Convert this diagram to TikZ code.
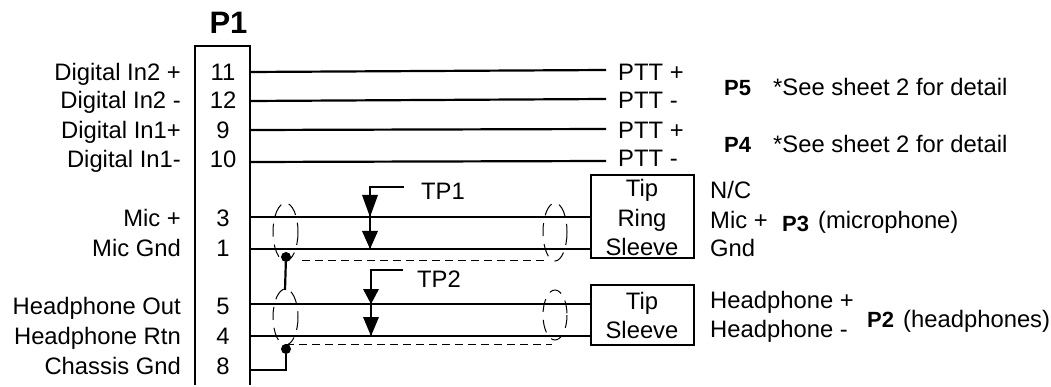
\documentclass[tikz,border=0pt]{standalone}
\usepackage{fontspec}
\setmainfont{Liberation Sans}
\tikzset{
  x=1pt,y=-1pt,
  wire/.style={line width=2.2pt},
  shield/.style={line width=1pt,dash pattern=on 8pt off 5pt},
  loop/.style={line width=1pt,dash pattern=on 13pt off 8pt},
  lbl/.style={inner sep=0pt,font=\fontsize{23.8}{26}\selectfont},
  lr/.style={lbl,anchor=base east},
  ll/.style={lbl,anchor=base west},
  pin/.style={lbl,anchor=base},
  bold/.style={lbl,anchor=base west,font=\fontsize{22}{26}\selectfont\bfseries},
  dot/.style={circle,fill=black,inner sep=0pt,minimum size=10pt},
  head/.style={fill=black,draw=none},
}
\begin{document}
\begin{tikzpicture}
\useasboundingbox (0,0) rectangle (1051,387);
\node[lbl,font=\fontsize{31}{34}\selectfont\bfseries] (p1) at (228.5,23) {P1};
\draw[line width=1.1pt] (195,385) -- (195,46) -- (250,46) -- (250,385);
% pins and left labels
\foreach \n/\t/\y/\b/\l in {a/11/72/81/Digital In2 +,b/12/101/109/Digital In2 -,c/9/130/139/Digital In1+,d/10/162/168/Digital In1-,e/3/217/227/Mic +,f/1/249/257/Mic Gnd,g/5/304/314/Headphone Out,h/4/336/344/Headphone Rtn,i/8/370/374/Chassis Gnd}{
  \node[pin] (pin\n) at (223,\b) {\t};
  \node[lr] (lab\n) at (181,\b) {\l};
  \coordinate (w\n) at (250,\y);
}
% PTT
\foreach \n/\t/\y/\b in {a/PTT +/70/81,b/PTT -/99/109,c/PTT +/129/139,d/PTT -/161/167}{
  \node[ll] (ptt\n) at (618,\b) {\t};
  \coordinate (e\n) at (606,\y);
  \draw[wire] (w\n) -- (e\n);
}
\node[bold] (p5) at (724,96) {P5};
\node[ll] (n5) at (773,96) {*See sheet 2 for detail};
\node[bold] (p4) at (724,153) {P4};
\node[ll] (n4) at (773,153) {*See sheet 2 for detail};
% plug boxes
\node[draw,line width=1.3pt,minimum width=103pt,minimum height=83pt,inner sep=0pt] (box3) at (642.5,216.5) {};
\node[draw,line width=1.3pt,minimum width=103pt,minimum height=60pt,inner sep=0pt] (box2) at (642.5,315) {};
\node[pin] (t3a) at (642,197) {Tip};
\node[pin] (t3b) at (642,227) {Ring};
\node[pin] (t3c) at (642,255) {Sleeve};
\node[pin] (t2a) at (642,309) {Tip};
\node[pin] (t2b) at (642,338) {Sleeve};
\draw[wire] (we) -- (we -| box3.west);
\draw[wire] (wf) -- (wf -| box3.west);
\draw[wire] (wg) -- (wg -| box2.west);
\draw[wire] (wh) -- (wh -| box2.west);
% TP
\node[ll] (tp1) at (421,200) {TP1};
\node[ll] (tp2) at (417,287) {TP2};
\coordinate (lead1) at (404,187);
\coordinate (lead2) at (403,270);
\foreach \p/\x/\ya/\yb/\yc/\yd/\ye in {lead1/370/187/195/217/231/249,lead2/371/270/289/304/317/336}{
  \draw[wire] (\p) -- (\x,\ya) -- (\x,\ye);
  \fill[head] (\x-8,\yb) -- (\x+8,\yb) -- (\x,\yc) -- cycle;
  \fill[head] (\x-8,\yd) -- (\x+8,\yd) -- (\x,\ye) -- cycle;
}
% shields
\draw[loop] (285.5,232) ellipse [x radius=12.5,y radius=29];
\draw[loop] (555,232) ellipse [x radius=12,y radius=29];
\draw[loop] (285.5,317) ellipse [x radius=12.5,y radius=28];
\draw[loop] (555,315) ellipse [x radius=12,y radius=25];
\coordinate (sa) at (302,260);
\coordinate (sb) at (548,260);
\coordinate (sc) at (286,344);
\coordinate (sd) at (552,344);
\draw[shield] (sa) -- (sb);
\draw[shield] (sc) -- (sd);
% grounds
\node[dot] (d1) at (286,257) {};
\node[dot] (d2) at (286,349) {};
\coordinate (s2) at (285,290);
\draw[wire] (d1) -- (s2);
\draw[wire] (d2) |- (wi);
% right labels
\node[ll] (r1) at (710,199) {N/C};
\node[ll] (r2) at (710,229) {Mic +};
\node[bold] (p3) at (782,232) {P3};
\node[ll] (r2b) at (818,229) {(microphone)};
\node[ll] (r3) at (710,257) {Gnd};
\node[ll] (r4) at (710,308) {Headphone +};
\node[ll] (r5) at (710,337) {Headphone -};
\node[bold] (p2) at (867,327) {P2};
\node[ll] (r5b) at (903,327) {(headphones)};
\end{tikzpicture}
\end{document}
